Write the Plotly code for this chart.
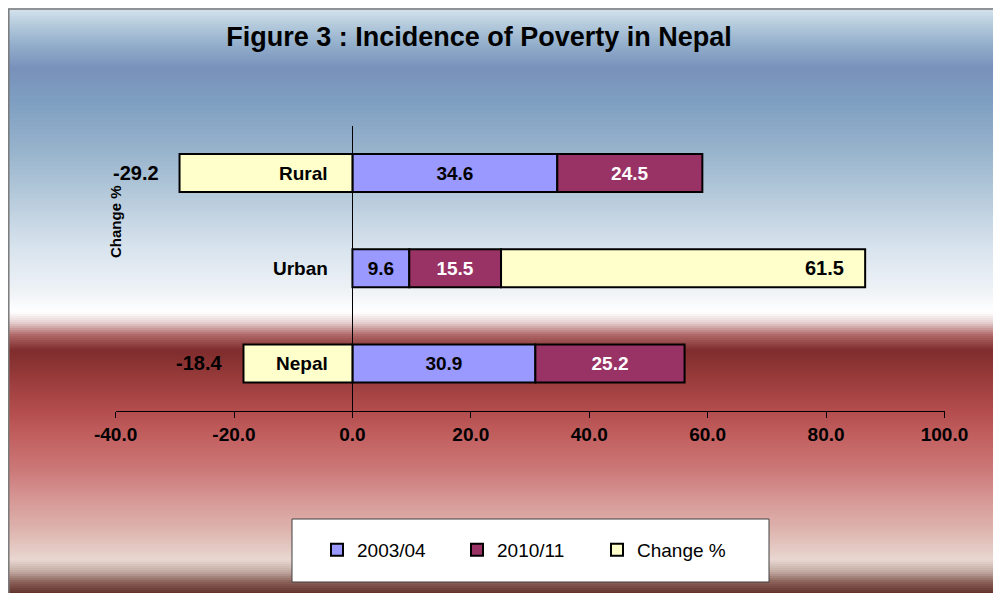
import plotly.graph_objects as go

OFF = 8  # browser default body margin
W, H = 1001 - OFF, 593 - OFF

categories = ["Nepal", "Urban", "Rural"]
v2003 = [30.9, 9.6, 34.6]
v2010 = [25.2, 15.5, 24.5]
change = [-18.4, 61.5, -29.2]
xticks = [-40, -20, 0, 20, 40, 60, 80, 100]

FONT = "Arial, Liberation Sans, sans-serif"

def px_x(p):
    return (p - OFF) / W

def px_y(p):
    return 1 - (p - OFF) / H

# background gradient stops (screen pixel y, colour)
stops = [
    (5, (0xDC, 0xE8, 0xF2)), (25, (0xB4, 0xCA, 0xDC)), (45, (0x92, 0xAE, 0xCB)),
    (68, (0x79, 0x91, 0xBA)), (100, (0x7E, 0x9E, 0xC1)), (150, (0x97, 0xB3, 0xCC)),
    (200, (0xB8, 0xCC, 0xDC)), (250, (0xD9, 0xE4, 0xEE)), (290, (0xEE, 0xF2, 0xF6)),
    (312, (0xFF, 0xFF, 0xFF)), (322, (0xE8, 0xD4, 0xD4)), (335, (0xB0, 0x68, 0x68)),
    (350, (0x7F, 0x2C, 0x2C)), (380, (0x9A, 0x3C, 0x3C)), (411, (0xB4, 0x4D, 0x4D)),
    (440, (0xC4, 0x62, 0x62)), (470, (0xCC, 0x78, 0x78)), (500, (0xD6, 0x98, 0x96)),
    (530, (0xDE, 0xB4, 0xAE)), (560, (0xE9, 0xD7, 0xD1)), (572, (0xC0, 0xA8, 0xA0)),
    (582, (0x8A, 0x60, 0x58)), (594, (0x5E, 0x30, 0x28)),
]

def col_at(y):
    for (y0, c0), (y1, c1) in zip(stops[:-1], stops[1:]):
        if y0 <= y <= y1:
            t = (y - y0) / (y1 - y0)
            return "rgb(%d,%d,%d)" % tuple(round(a + (b - a) * t) for a, b in zip(c0, c1))
    return "rgb(%d,%d,%d)" % stops[-1][1]

shapes = []
step = 2
y = OFF
while y < 593:
    shapes.append(dict(type="rect", xref="paper", yref="paper", layer="below",
                       x0=0, x1=1.0, y0=px_y(min(y + step, 593)) - 0.002, y1=px_y(y),
                       fillcolor=col_at(y + step / 2), line=dict(width=0)))
    y += step
# outer border
shapes.append(dict(type="rect", xref="paper", yref="paper", layer="below",
                   x0=0.0008, x1=1.01, y0=-0.01, y1=0.9985,
                   line=dict(color="#7a7a7a", width=1.5), fillcolor="rgba(0,0,0,0)"))
# legend box
shapes.append(dict(type="rect", xref="paper", yref="paper", layer="below",
                   x0=px_x(292), x1=px_x(769), y0=px_y(582), y1=px_y(519),
                   line=dict(color="#404040", width=1), fillcolor="white"))

fig = go.Figure()
bar_common = dict(orientation="h", width=0.4, textposition="inside",
                  insidetextanchor="middle", constraintext="none",
                  texttemplate="%{x:.1f}")
fig.add_trace(go.Bar(name="2003/04", y=categories, x=v2003,
                     marker=dict(color="#9999FF", line=dict(color="black", width=2)),
                     textfont=dict(family=FONT, size=19, color="black", weight="bold"),
                     **bar_common))
fig.add_trace(go.Bar(name="2010/11", y=categories, x=v2010,
                     marker=dict(color="#993366", line=dict(color="black", width=2)),
                     textfont=dict(family=FONT, size=19, color="white", weight="bold"),
                     **bar_common))
fig.add_trace(go.Bar(name="Change %", y=categories, x=change, orientation="h", width=0.4,
                     marker=dict(color="#FFFFCC", line=dict(color="black", width=2))))

annotations = []
for cat, a, b, c in zip(categories, v2003, v2010, change):
    xend = c if c < 0 else a + b + c
    annotations.append(dict(x=xend, y=cat, xref="x", yref="y", text="%.1f" % c,
                            showarrow=False, xanchor="right", xshift=-19,
                            font=dict(family=FONT, size=20, color="black", weight="bold")))
    annotations.append(dict(x=0, y=cat, xref="x", yref="y", text=cat,
                            showarrow=False, xanchor="right", xshift=-22,
                            font=dict(family=FONT, size=19, color="black", weight="bold")))
annotations.append(dict(x=px_x(115), y=px_y(222), xref="paper", yref="paper",
                        xanchor="center", yanchor="middle",
                        text="Change %", textangle=-90, showarrow=False,
                        font=dict(family=FONT, size=15, color="black", weight="bold")))

fig.update_layout(
    width=W, height=H, autosize=False,
    margin=dict(l=0, r=0, t=0, b=0, pad=0, autoexpand=False),
    paper_bgcolor="white", plot_bgcolor="rgba(0,0,0,0)",
    barmode="relative",
    title=dict(text="Figure 3 : Incidence of Poverty in Nepal",
               x=px_x(479), xanchor="center", y=px_y(37), yanchor="middle",
               font=dict(family=FONT, size=27, color="black", weight="bold")),
    xaxis=dict(domain=[px_x(115.6), px_x(944.5)], range=[-40, 100], automargin=False,
               tickvals=xticks, ticktext=["%.1f" % t for t in xticks],
               showgrid=False, zeroline=True, zerolinecolor="black", zerolinewidth=1,
               showline=True, linecolor="black", linewidth=1,
               ticks="outside", ticklen=6, tickcolor="black",
               tickfont=dict(family=FONT, size=19, color="black", weight="bold"),
               fixedrange=True),
    yaxis=dict(domain=[px_y(411), px_y(125.5)], range=[-0.5, 2.5], automargin=False,
               categoryorder="array", categoryarray=categories,
               showticklabels=False, showgrid=False, zeroline=False, showline=False,
               ticks="", fixedrange=True),
    legend=dict(orientation="h", x=px_x(317), xanchor="left", y=px_y(550), yanchor="middle",
                bgcolor="rgba(0,0,0,0)", borderwidth=0,
                font=dict(family=FONT, size=19, color="black"),
                entrywidth=95, entrywidthmode="pixels", traceorder="normal"),
    shapes=shapes,
    annotations=annotations,
)

fig.write_html("out.html")
